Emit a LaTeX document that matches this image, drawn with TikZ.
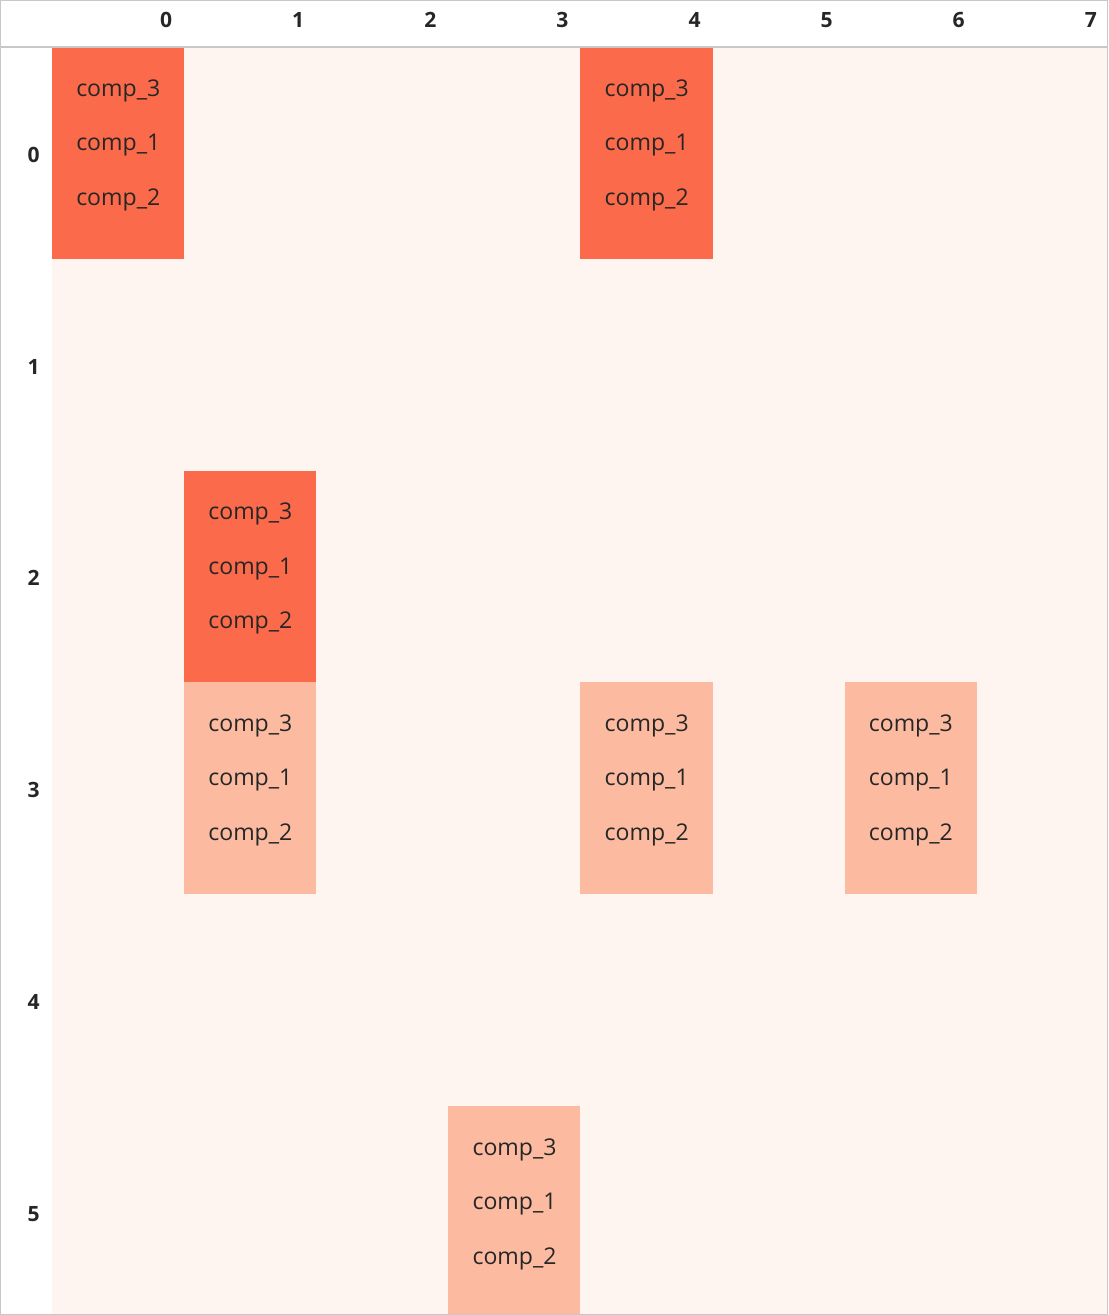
\documentclass[tikz,border=0pt]{standalone}
\usepackage{fontspec}
\setmainfont{Open Sans}
\definecolor{bgred}{HTML}{FFF5F0}
\definecolor{hired}{HTML}{FB6A4A}
\definecolor{lored}{HTML}{FCBBA1}
\definecolor{txt}{HTML}{262626}
\definecolor{rule}{HTML}{C8C8C8}
\begin{document}
\begin{tikzpicture}[x=0.75pt, y=-0.75pt,
		every node/.style={inner sep=0pt, text=txt},
		lbl/.style={anchor=base west, font=\fontsize{17.3}{20}\selectfont},
		hdr/.style={font=\fontsize{15.8}{18}\selectfont\bfseries}]
			\useasboundingbox (0,0) rectangle (1108,1315);
			\fill[white] (0,0) rectangle (1108,1315);
			\fill[bgred] (52,47) rectangle (1108,1315);
			% coloured cells: column/row/colour
			\foreach \c/\r/\col in {0/0/hired,4/0/hired,1/2/hired,1/3/lored,4/3/lored,6/3/lored,3/5/lored}{
				\fill[\col] (52+\c*132.1,47+\r*211.8) rectangle ++(132.1,211.8);
				\node[lbl] (t\c\r a) at (76+\c*132.1,96+\r*211.8) {comp\_3};
				\node[lbl] (t\c\r b) at (76+\c*132.1,150.5+\r*211.8) {comp\_1};
				\node[lbl] (t\c\r c) at (76+\c*132.1,205+\r*211.8) {comp\_2};
			}
			% headers
			\foreach \c in {0,...,7}
				\node[hdr, anchor=base east] (col\c) at (52+\c*132.1+120.4,27.3) {\c};
			\foreach \r in {0,...,5}
				\node[hdr, anchor=base] (row\r) at (33.7,162.3+\r*211.8) {\r};
			\draw[rule, line width=1] (0,47) -- (1108,47);
			\draw[rule, line width=1] (0.5,0.5) rectangle (1107.5,1314.5);
			\end{tikzpicture}
\end{document}
